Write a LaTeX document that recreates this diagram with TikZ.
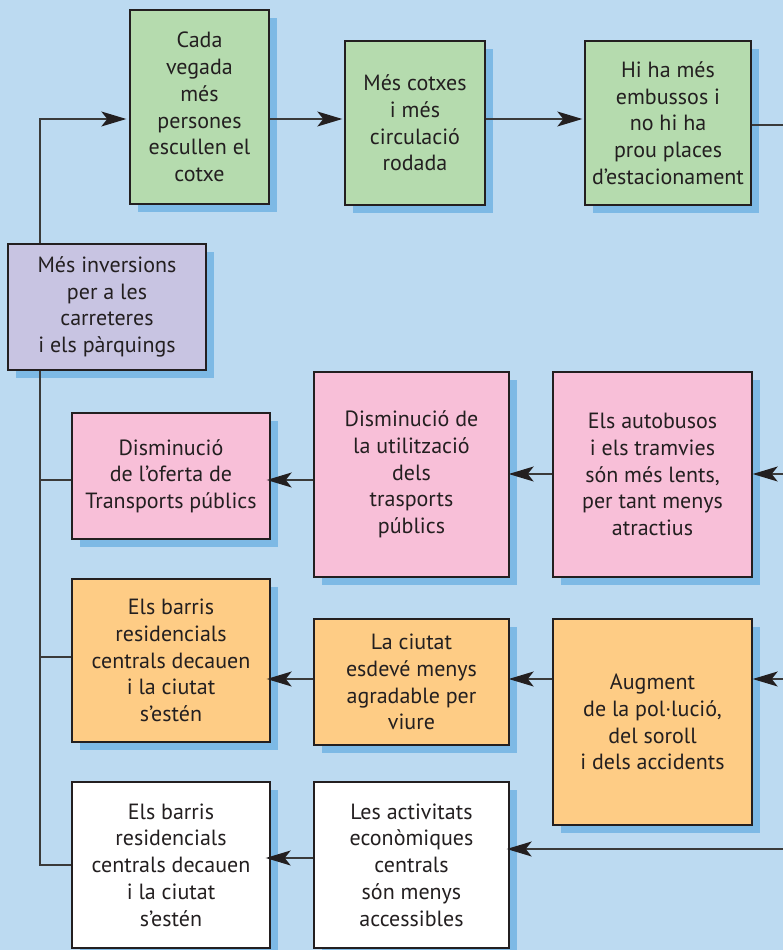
\documentclass[tikz,border=0pt]{standalone}
\usepackage{fontspec}
\setmainfont{PT Sans}
\usetikzlibrary{arrows.meta,shadows}
\definecolor{bgc}{HTML}{BCDAF1}
\definecolor{shc}{HTML}{7DB9E5}
\definecolor{grn}{HTML}{B5DBAE}
\definecolor{prp}{HTML}{C8C4E2}
\definecolor{pnk}{HTML}{F8BFD8}
\definecolor{org}{HTML}{FECC85}
\definecolor{inkc}{HTML}{231F20}
\definecolor{linec}{HTML}{3A3A3A}
\tikzset{
  box/.style={draw=inkc, line width=1.4pt, inner sep=0pt, align=center,
    text=inkc, font=\fontsize{22}{26.7}\selectfont,
    drop shadow={shadow xshift=8pt, shadow yshift=-8pt, fill=shc, opacity=1, draw=none}},
  arr/.style={draw=linec, line width=1.2pt, -{Stealth[length=25pt,width=15pt,inset=6pt,color=inkc]}},
  ln/.style={draw=linec, line width=1.2pt}
}
\newcommand{\bx}[7]{% name, x1,y1,x2,y2, fill, text
  \node[box, fill=#6, minimum width={(#4-#2)*1pt}, minimum height={(#5-#3)*1pt}]
    (#1) at ({(#2+#4)/2},{(#3+#5)/2}) {#7};}
\begin{document}
\begin{tikzpicture}[x=1pt,y=-1pt]
\fill[bgc] (0,0) rectangle (783,950);
\useasboundingbox (0,0) rectangle (783,950);
% top row
\bx{cada}{130}{10}{269}{204}{grn}{Cada\\vegada\\més\\persones\\escullen el\\cotxe}
\bx{cotxes}{345}{41}{485}{205}{grn}{Més cotxes\\i més\\circulació\\rodada}
\bx{hiha}{585}{41}{751}{205}{grn}{Hi ha més\\embussos i\\no hi ha\\prou places\\d’estacionament}
\bx{inv}{8}{244}{206}{370}{prp}{Més inversions\\per a les\\carreteres\\i els pàrquings}
% row 2
\bx{oferta}{72}{413}{270}{539}{pnk}{Disminució\\de l’oferta de\\Transports públics}
\bx{util}{314}{372}{509}{577}{pnk}{Disminució de\\la utilització\\dels\\trasports\\públics}
\bx{auto}{553}{372}{752}{577}{pnk}{Els autobusos\\i els tramvies\\són més lents,\\per tant menys\\atractius}
% row 3
\bx{barrisO}{72}{579}{270}{742}{org}{Els barris\\residencials\\centrals decauen\\i la ciutat\\s’estén}
\bx{ciutat}{314}{619}{509}{745}{org}{La ciutat\\esdevé menys\\agradable per\\viure}
\bx{augment}{553}{619}{752}{825}{org}{Augment\\de la pol·lució,\\del soroll\\i dels accidents}
% row 4
\bx{barrisW}{72}{782}{270}{948}{white}{Els barris\\residencials\\centrals decauen\\i la ciutat\\s’estén}
\bx{activ}{314}{782}{509}{948}{white}{Les activitats\\econòmiques\\centrals\\són menys\\accessibles}
% connectors
\coordinate (tA) at (40,119);
\coordinate (tEnd) at (40,865);
\coordinate (r1) at (783,125);
\coordinate (r2a) at (40,480);
\coordinate (r2b) at (783,474);
\coordinate (r3a) at (40,657);
\coordinate (r3b) at (783,679);
\coordinate (r4a) at (40,858);
\coordinate (r4b) at (783,849);
\draw[arr, shorten >=3pt] (inv.north -| tA) |- (cada.west |- tA);
\draw[arr, shorten >=2pt] (cada.east |- tA) -- (cotxes.west |- tA);
\draw[arr, shorten >=2pt] (cotxes.east |- tA) -- (hiha.west |- tA);
\draw[ln] (hiha.east |- r1) -- (r1);
\draw[ln] (inv.south -| tA) -- (tEnd) -- (barrisW.west |- tEnd);
\draw[ln] (r2a) -- (oferta.west |- r2a);
\draw[ln] (r3a) -- (barrisO.west |- r3a);
\draw[arr, shorten >=-4pt] (util.west |- r2a) -- (oferta.east |- r2a);
\draw[arr, shorten >=-1pt] (auto.west |- r2b) -- (util.east |- r2b);
\draw[arr] (r2b) -- (auto.east |- r2b);
\draw[arr, shorten >=-4pt] (ciutat.west |- r3b) -- (barrisO.east |- r3b);
\draw[arr, shorten >=-1pt] (augment.west |- r3b) -- (ciutat.east |- r3b);
\draw[arr] (r3b) -- (augment.east |- r3b);
\draw[arr, shorten >=-5pt] (activ.west |- r4a) -- (barrisW.east |- r4a);
\draw[arr, shorten >=-3pt] (r4b) -- (activ.east |- r4b);
\end{tikzpicture}
\end{document}
